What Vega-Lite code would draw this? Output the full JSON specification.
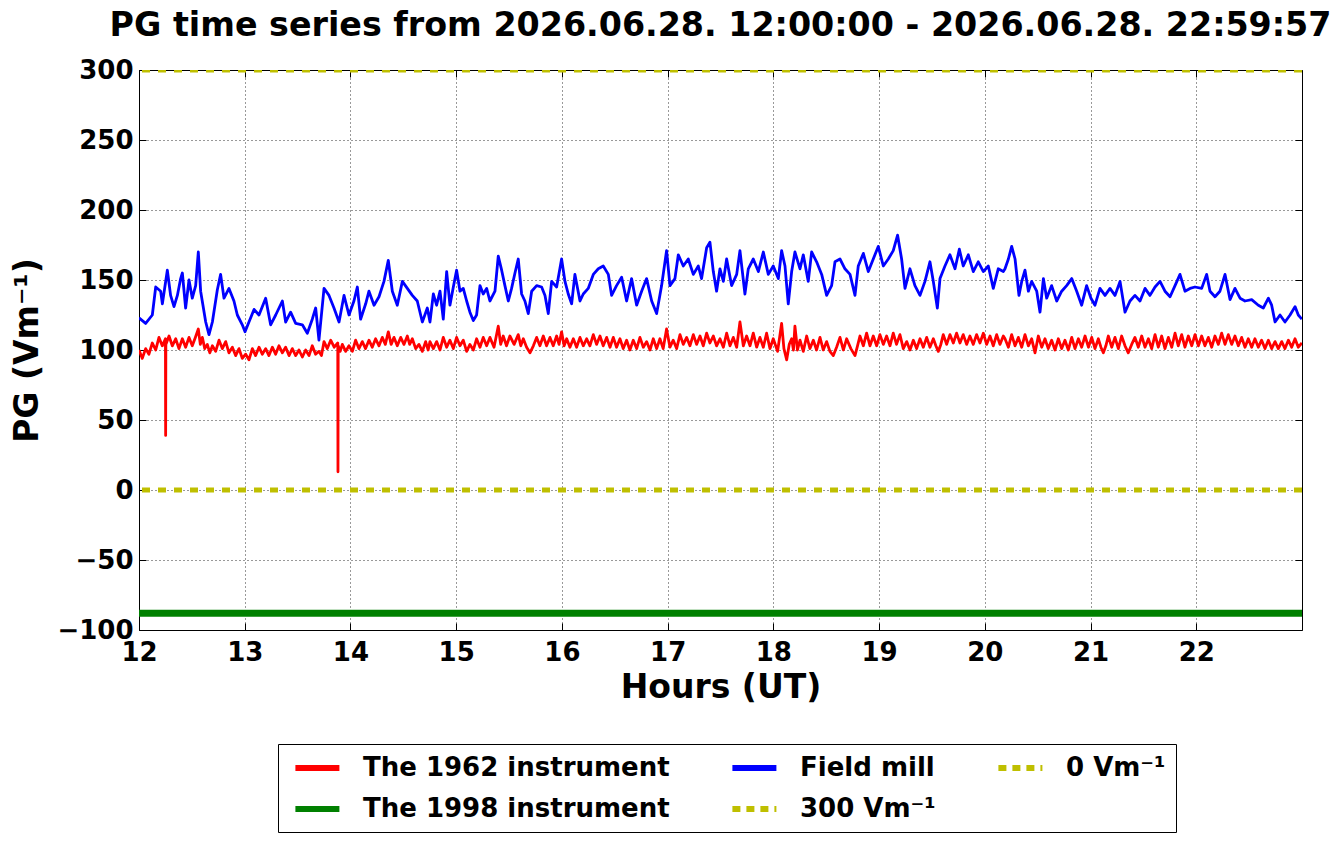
{
  "$schema": "https://vega.github.io/schema/vega-lite/v6.json",
  "width": 1163,
  "height": 560,
  "autosize": {"type": "none"},
  "padding": {"left": 139, "top": 70, "right": 39, "bottom": 214},
  "background": "white",
  "config": {
    "font": "DejaVu Sans",
    "view": {"stroke": "black", "strokeWidth": 1},
    "axis": {
      "labelFont": "DejaVu Sans",
      "labelFontSize": 26,
      "labelFontWeight": "bold",
      "labelColor": "black",
      "titleFont": "DejaVu Sans",
      "titleFontSize": 33,
      "titleFontWeight": "bold",
      "titleColor": "black",
      "domain": false,
      "tickColor": "black",
      "tickSize": -7,
      "tickWidth": 1,
      "gridColor": "black",
      "gridDash": [1, 3],
      "gridOpacity": 0.8,
      "gridWidth": 1,
      "labelFlush": false,
      "labelOverlap": false
    }
  },
  "title": {
    "text": "PG time series from 2026.06.28. 12:00:00 - 2026.06.28. 22:59:57",
    "font": "DejaVu Sans",
    "fontSize": 33.3,
    "fontWeight": "bold",
    "color": "black",
    "anchor": "middle",
    "offset": 14
  },
  "datasets": {
    "red": [
      {"h":12.000,"v":100},{"h":12.031,"v":94},{"h":12.063,"v":101},{"h":12.094,"v":97},{"h":12.126,"v":105},{"h":12.158,"v":100},{"h":12.189,"v":109},{"h":12.220,"v":103},{"h":12.250,"v":108},{"h":12.252,"v":39},{"h":12.254,"v":104},{"h":12.284,"v":110},{"h":12.315,"v":103},{"h":12.347,"v":108},{"h":12.378,"v":101},{"h":12.410,"v":108},{"h":12.441,"v":102},{"h":12.473,"v":109},{"h":12.504,"v":103},{"h":12.533,"v":109},{"h":12.561,"v":115},{"h":12.580,"v":104},{"h":12.599,"v":109},{"h":12.622,"v":101},{"h":12.646,"v":104},{"h":12.670,"v":98},{"h":12.694,"v":103},{"h":12.725,"v":99},{"h":12.757,"v":107},{"h":12.788,"v":101},{"h":12.820,"v":106},{"h":12.851,"v":98},{"h":12.883,"v":102},{"h":12.914,"v":96},{"h":12.946,"v":101},{"h":12.977,"v":94},{"h":13.009,"v":97},{"h":13.040,"v":93},{"h":13.072,"v":101},{"h":13.103,"v":96},{"h":13.135,"v":102},{"h":13.166,"v":97},{"h":13.198,"v":101},{"h":13.229,"v":96},{"h":13.261,"v":102},{"h":13.292,"v":97},{"h":13.324,"v":103},{"h":13.356,"v":98},{"h":13.387,"v":102},{"h":13.419,"v":96},{"h":13.450,"v":101},{"h":13.482,"v":96},{"h":13.513,"v":100},{"h":13.545,"v":95},{"h":13.576,"v":100},{"h":13.608,"v":96},{"h":13.639,"v":103},{"h":13.670,"v":97},{"h":13.702,"v":99},{"h":13.726,"v":96},{"h":13.750,"v":106},{"h":13.781,"v":101},{"h":13.813,"v":107},{"h":13.846,"v":102},{"h":13.880,"v":105},{"h":13.882,"v":13},{"h":13.884,"v":103},{"h":13.903,"v":99},{"h":13.923,"v":104},{"h":13.955,"v":99},{"h":13.986,"v":103},{"h":14.018,"v":99},{"h":14.049,"v":107},{"h":14.080,"v":101},{"h":14.112,"v":106},{"h":14.143,"v":101},{"h":14.175,"v":107},{"h":14.206,"v":102},{"h":14.238,"v":108},{"h":14.270,"v":103},{"h":14.301,"v":109},{"h":14.330,"v":104},{"h":14.358,"v":113},{"h":14.385,"v":104},{"h":14.412,"v":109},{"h":14.443,"v":103},{"h":14.475,"v":109},{"h":14.506,"v":104},{"h":14.538,"v":110},{"h":14.560,"v":104},{"h":14.585,"v":108},{"h":14.617,"v":101},{"h":14.648,"v":104},{"h":14.680,"v":99},{"h":14.711,"v":106},{"h":14.735,"v":100},
      {"h":14.752,"v":106},{"h":14.784,"v":101},{"h":14.815,"v":106},{"h":14.847,"v":100},{"h":14.878,"v":109},{"h":14.910,"v":102},{"h":14.941,"v":107},{"h":14.973,"v":101},{"h":15.004,"v":109},{"h":15.036,"v":103},{"h":15.067,"v":107},{"h":15.099,"v":99},{"h":15.130,"v":104},{"h":15.162,"v":100},{"h":15.193,"v":108},{"h":15.225,"v":102},{"h":15.256,"v":109},{"h":15.288,"v":103},{"h":15.319,"v":109},{"h":15.358,"v":102},{"h":15.398,"v":117},{"h":15.421,"v":104},{"h":15.445,"v":110},{"h":15.476,"v":103},{"h":15.508,"v":110},{"h":15.548,"v":104},{"h":15.587,"v":111},{"h":15.611,"v":103},{"h":15.635,"v":108},{"h":15.666,"v":102},{"h":15.698,"v":98},{"h":15.730,"v":103},{"h":15.761,"v":109},{"h":15.792,"v":103},{"h":15.824,"v":110},{"h":15.855,"v":103},{"h":15.887,"v":109},{"h":15.918,"v":103},{"h":15.950,"v":110},{"h":15.973,"v":104},{"h":15.997,"v":113},{"h":16.021,"v":103},{"h":16.045,"v":108},{"h":16.076,"v":102},{"h":16.108,"v":108},{"h":16.139,"v":102},{"h":16.171,"v":109},{"h":16.202,"v":103},{"h":16.234,"v":108},{"h":16.265,"v":103},{"h":16.297,"v":111},{"h":16.328,"v":104},{"h":16.360,"v":110},{"h":16.391,"v":103},{"h":16.423,"v":109},{"h":16.455,"v":102},{"h":16.486,"v":109},{"h":16.517,"v":102},{"h":16.549,"v":108},{"h":16.580,"v":101},{"h":16.612,"v":107},{"h":16.643,"v":100},{"h":16.675,"v":107},{"h":16.707,"v":101},{"h":16.738,"v":109},{"h":16.770,"v":102},{"h":16.801,"v":106},{"h":16.833,"v":100},{"h":16.864,"v":108},{"h":16.896,"v":101},{"h":16.927,"v":108},{"h":16.958,"v":101},{"h":16.990,"v":115},{"h":17.022,"v":102},{"h":17.053,"v":107},{"h":17.085,"v":101},{"h":17.117,"v":111},{"h":17.148,"v":104},{"h":17.180,"v":109},{"h":17.211,"v":103},{"h":17.243,"v":111},{"h":17.274,"v":104},{"h":17.306,"v":110},{"h":17.337,"v":103},{"h":17.369,"v":112},{"h":17.400,"v":105},{"h":17.432,"v":110},{"h":17.463,"v":103},
      {"h":17.495,"v":108},{"h":17.527,"v":102},{"h":17.558,"v":112},{"h":17.590,"v":103},{"h":17.621,"v":109},{"h":17.653,"v":102},{"h":17.684,"v":120},{"h":17.716,"v":103},{"h":17.747,"v":110},{"h":17.779,"v":103},{"h":17.810,"v":112},{"h":17.842,"v":102},{"h":17.873,"v":109},{"h":17.905,"v":102},{"h":17.936,"v":112},{"h":17.968,"v":101},{"h":17.999,"v":108},{"h":18.040,"v":99},{"h":18.078,"v":119},{"h":18.100,"v":101},{"h":18.126,"v":93},{"h":18.150,"v":104},{"h":18.173,"v":108},{"h":18.190,"v":100},{"h":18.204,"v":117},{"h":18.228,"v":100},{"h":18.252,"v":107},{"h":18.283,"v":99},{"h":18.315,"v":110},{"h":18.346,"v":101},{"h":18.378,"v":107},{"h":18.409,"v":100},{"h":18.441,"v":109},{"h":18.472,"v":100},{"h":18.504,"v":106},{"h":18.535,"v":99},{"h":18.567,"v":96},{"h":18.598,"v":102},{"h":18.630,"v":109},{"h":18.662,"v":100},{"h":18.693,"v":108},{"h":18.733,"v":101},{"h":18.772,"v":96},{"h":18.796,"v":103},{"h":18.819,"v":110},{"h":18.851,"v":103},{"h":18.882,"v":112},{"h":18.914,"v":103},{"h":18.945,"v":110},{"h":18.977,"v":103},{"h":19.008,"v":111},{"h":19.040,"v":104},{"h":19.071,"v":110},{"h":19.103,"v":103},{"h":19.134,"v":112},{"h":19.165,"v":104},{"h":19.197,"v":111},{"h":19.229,"v":101},{"h":19.261,"v":106},{"h":19.292,"v":100},{"h":19.324,"v":107},{"h":19.355,"v":101},{"h":19.387,"v":108},{"h":19.418,"v":102},{"h":19.450,"v":109},{"h":19.481,"v":102},{"h":19.513,"v":108},{"h":19.537,"v":103},{"h":19.560,"v":99},{"h":19.584,"v":104},{"h":19.607,"v":111},{"h":19.639,"v":104},{"h":19.670,"v":111},{"h":19.702,"v":105},{"h":19.733,"v":112},{"h":19.765,"v":105},{"h":19.796,"v":111},{"h":19.828,"v":104},{"h":19.859,"v":110},{"h":19.891,"v":104},{"h":19.922,"v":111},{"h":19.954,"v":105},{"h":19.986,"v":112},{"h":20.017,"v":104},{"h":20.049,"v":110},{"h":20.080,"v":103},{"h":20.112,"v":111},{"h":20.143,"v":104},{"h":20.175,"v":110},
      {"h":20.191,"v":108},{"h":20.223,"v":102},{"h":20.254,"v":111},{"h":20.286,"v":103},{"h":20.317,"v":109},{"h":20.349,"v":102},{"h":20.380,"v":111},{"h":20.412,"v":103},{"h":20.443,"v":108},{"h":20.475,"v":98},{"h":20.506,"v":110},{"h":20.538,"v":102},{"h":20.569,"v":108},{"h":20.600,"v":101},{"h":20.632,"v":107},{"h":20.664,"v":100},{"h":20.695,"v":108},{"h":20.727,"v":101},{"h":20.758,"v":107},{"h":20.790,"v":100},{"h":20.822,"v":109},{"h":20.853,"v":101},{"h":20.885,"v":108},{"h":20.916,"v":102},{"h":20.948,"v":110},{"h":20.980,"v":102},{"h":21.011,"v":109},{"h":21.042,"v":101},{"h":21.074,"v":108},{"h":21.098,"v":102},{"h":21.121,"v":98},{"h":21.145,"v":103},{"h":21.168,"v":110},{"h":21.200,"v":102},{"h":21.231,"v":109},{"h":21.263,"v":101},{"h":21.294,"v":110},{"h":21.326,"v":103},{"h":21.357,"v":98},{"h":21.389,"v":104},{"h":21.420,"v":109},{"h":21.452,"v":102},{"h":21.484,"v":110},{"h":21.515,"v":102},{"h":21.547,"v":108},{"h":21.578,"v":101},{"h":21.610,"v":111},{"h":21.641,"v":102},{"h":21.673,"v":110},{"h":21.704,"v":101},{"h":21.736,"v":109},{"h":21.768,"v":102},{"h":21.799,"v":112},{"h":21.830,"v":103},{"h":21.862,"v":111},{"h":21.893,"v":102},{"h":21.925,"v":110},{"h":21.957,"v":103},{"h":21.988,"v":111},{"h":22.020,"v":103},{"h":22.051,"v":110},{"h":22.082,"v":103},{"h":22.114,"v":109},{"h":22.146,"v":102},{"h":22.177,"v":110},{"h":22.209,"v":104},{"h":22.240,"v":112},{"h":22.272,"v":104},{"h":22.303,"v":111},{"h":22.335,"v":104},{"h":22.366,"v":110},{"h":22.398,"v":103},{"h":22.429,"v":109},{"h":22.461,"v":102},{"h":22.492,"v":108},{"h":22.524,"v":102},{"h":22.555,"v":108},{"h":22.587,"v":102},{"h":22.618,"v":107},{"h":22.650,"v":101},{"h":22.682,"v":107},{"h":22.713,"v":101},{"h":22.745,"v":106},{"h":22.776,"v":101},{"h":22.808,"v":106},{"h":22.839,"v":101},{"h":22.871,"v":107},{"h":22.902,"v":102},{"h":22.934,"v":108},{"h":22.965,"v":102},{"h":22.999,"v":105}
    ],
    "blue": [
      {"h":12.000,"v":123},{"h":12.063,"v":119},{"h":12.126,"v":125},{"h":12.158,"v":145},{"h":12.205,"v":142},{"h":12.221,"v":133},{"h":12.268,"v":157},{"h":12.299,"v":139},{"h":12.331,"v":131},{"h":12.363,"v":139},{"h":12.394,"v":151},{"h":12.410,"v":155},{"h":12.441,"v":130},{"h":12.473,"v":150},{"h":12.504,"v":137},{"h":12.536,"v":146},{"h":12.561,"v":170},{"h":12.583,"v":142},{"h":12.631,"v":120},{"h":12.662,"v":111},{"h":12.694,"v":120},{"h":12.741,"v":143},{"h":12.772,"v":154},{"h":12.804,"v":137},{"h":12.851,"v":144},{"h":12.898,"v":135},{"h":12.930,"v":125},{"h":12.977,"v":118},{"h":13.003,"v":113},{"h":13.040,"v":120},{"h":13.088,"v":129},{"h":13.135,"v":125},{"h":13.198,"v":137},{"h":13.245,"v":118},{"h":13.293,"v":125},{"h":13.356,"v":135},{"h":13.387,"v":120},{"h":13.434,"v":127},{"h":13.482,"v":119},{"h":13.545,"v":118},{"h":13.592,"v":112},{"h":13.639,"v":122},{"h":13.671,"v":130},{"h":13.702,"v":107},{"h":13.750,"v":144},{"h":13.797,"v":139},{"h":13.844,"v":130},{"h":13.892,"v":120},{"h":13.939,"v":139},{"h":13.986,"v":125},{"h":14.033,"v":135},{"h":14.065,"v":145},{"h":14.096,"v":122},{"h":14.144,"v":133},{"h":14.175,"v":142},{"h":14.223,"v":132},{"h":14.270,"v":138},{"h":14.317,"v":149},{"h":14.358,"v":164},{"h":14.396,"v":142},{"h":14.443,"v":132},{"h":14.491,"v":149},{"h":14.538,"v":144},{"h":14.585,"v":139},{"h":14.632,"v":135},{"h":14.680,"v":120},{"h":14.727,"v":130},
      {"h":14.752,"v":120},{"h":14.784,"v":140},{"h":14.815,"v":132},{"h":14.847,"v":142},{"h":14.878,"v":122},{"h":14.910,"v":156},{"h":14.941,"v":132},{"h":14.973,"v":145},{"h":15.004,"v":157},{"h":15.036,"v":142},{"h":15.067,"v":144},{"h":15.099,"v":135},{"h":15.130,"v":127},{"h":15.162,"v":121},{"h":15.193,"v":125},{"h":15.225,"v":146},{"h":15.256,"v":140},{"h":15.288,"v":144},{"h":15.319,"v":135},{"h":15.367,"v":142},{"h":15.398,"v":167},{"h":15.430,"v":157},{"h":15.461,"v":146},{"h":15.493,"v":135},{"h":15.524,"v":144},{"h":15.556,"v":155},{"h":15.587,"v":165},{"h":15.619,"v":140},{"h":15.650,"v":135},{"h":15.682,"v":126},{"h":15.714,"v":142},{"h":15.761,"v":146},{"h":15.808,"v":145},{"h":15.840,"v":139},{"h":15.871,"v":126},{"h":15.903,"v":149},{"h":15.950,"v":145},{"h":15.997,"v":165},{"h":16.029,"v":149},{"h":16.060,"v":140},{"h":16.092,"v":133},{"h":16.123,"v":154},{"h":16.171,"v":135},{"h":16.202,"v":140},{"h":16.249,"v":144},{"h":16.297,"v":154},{"h":16.344,"v":158},{"h":16.391,"v":160},{"h":16.439,"v":154},{"h":16.470,"v":139},{"h":16.517,"v":146},{"h":16.565,"v":152},{"h":16.612,"v":135},{"h":16.659,"v":151},{"h":16.707,"v":132},{"h":16.754,"v":142},{"h":16.801,"v":151},{"h":16.849,"v":135},{"h":16.896,"v":126},{"h":16.943,"v":146},{"h":16.990,"v":171},{"h":17.022,"v":146},{"h":17.069,"v":151},{"h":17.101,"v":168},{"h":17.148,"v":160},{"h":17.195,"v":165},{"h":17.243,"v":154},{"h":17.290,"v":160},{"h":17.321,"v":151},{"h":17.369,"v":173},{"h":17.400,"v":177},{"h":17.432,"v":156},{"h":17.463,"v":142},
      {"h":17.495,"v":158},{"h":17.527,"v":149},{"h":17.558,"v":165},{"h":17.605,"v":146},{"h":17.653,"v":154},{"h":17.684,"v":171},{"h":17.731,"v":140},{"h":17.763,"v":158},{"h":17.810,"v":165},{"h":17.858,"v":156},{"h":17.905,"v":170},{"h":17.952,"v":154},{"h":17.999,"v":160},{"h":18.047,"v":151},{"h":18.078,"v":171},{"h":18.110,"v":160},{"h":18.141,"v":133},{"h":18.173,"v":156},{"h":18.204,"v":170},{"h":18.252,"v":158},{"h":18.283,"v":168},{"h":18.330,"v":149},{"h":18.362,"v":170},{"h":18.409,"v":163},{"h":18.457,"v":154},{"h":18.504,"v":139},{"h":18.551,"v":146},{"h":18.583,"v":163},{"h":18.630,"v":165},{"h":18.677,"v":158},{"h":18.725,"v":154},{"h":18.772,"v":139},{"h":18.803,"v":160},{"h":18.851,"v":169},{"h":18.898,"v":156},{"h":18.945,"v":165},{"h":18.992,"v":174},{"h":19.040,"v":160},{"h":19.087,"v":165},{"h":19.134,"v":171},{"h":19.175,"v":182},{"h":19.213,"v":165},{"h":19.245,"v":144},{"h":19.292,"v":158},{"h":19.339,"v":146},{"h":19.387,"v":139},{"h":19.434,"v":149},{"h":19.481,"v":163},{"h":19.513,"v":149},{"h":19.551,"v":130},{"h":19.576,"v":151},{"h":19.623,"v":160},{"h":19.670,"v":168},{"h":19.718,"v":158},{"h":19.759,"v":172},{"h":19.796,"v":160},{"h":19.844,"v":168},{"h":19.891,"v":156},{"h":19.938,"v":163},{"h":19.986,"v":156},{"h":20.033,"v":160},{"h":20.080,"v":144},{"h":20.127,"v":158},{"h":20.175,"v":156},
      {"h":20.191,"v":158},{"h":20.223,"v":165},{"h":20.254,"v":174},{"h":20.286,"v":165},{"h":20.323,"v":139},{"h":20.349,"v":149},{"h":20.380,"v":157},{"h":20.412,"v":142},{"h":20.443,"v":149},{"h":20.491,"v":142},{"h":20.522,"v":127},{"h":20.554,"v":151},{"h":20.585,"v":137},{"h":20.632,"v":146},{"h":20.680,"v":135},{"h":20.727,"v":142},{"h":20.774,"v":146},{"h":20.822,"v":151},{"h":20.869,"v":142},{"h":20.916,"v":132},{"h":20.963,"v":146},{"h":21.004,"v":137},{"h":21.042,"v":132},{"h":21.089,"v":144},{"h":21.137,"v":139},{"h":21.184,"v":144},{"h":21.231,"v":139},{"h":21.279,"v":149},{"h":21.326,"v":127},{"h":21.373,"v":135},{"h":21.420,"v":139},{"h":21.468,"v":135},{"h":21.515,"v":144},{"h":21.562,"v":139},{"h":21.610,"v":145},{"h":21.657,"v":149},{"h":21.704,"v":142},{"h":21.752,"v":138},{"h":21.799,"v":146},{"h":21.846,"v":154},{"h":21.893,"v":142},{"h":21.941,"v":144},{"h":21.988,"v":145},{"h":22.051,"v":144},{"h":22.098,"v":154},{"h":22.130,"v":142},{"h":22.177,"v":138},{"h":22.224,"v":142},{"h":22.272,"v":154},{"h":22.319,"v":136},{"h":22.366,"v":144},{"h":22.414,"v":137},{"h":22.461,"v":135},{"h":22.524,"v":136},{"h":22.587,"v":132},{"h":22.634,"v":130},{"h":22.682,"v":137},{"h":22.713,"v":132},{"h":22.745,"v":120},{"h":22.792,"v":125},{"h":22.839,"v":120},{"h":22.887,"v":125},{"h":22.934,"v":131},{"h":22.965,"v":125},{"h":22.999,"v":122}
    ],
    "green": [{"v": -88}],
    "ref300": [{"v": 300}],
    "ref0": [{"v": 0}]
  },
  "layer": [
    {
      "data": {"name": "green"},
      "mark": {"type": "rule", "strokeWidth": 7},
      "encoding": {
        "y": {"field": "v", "type": "quantitative", "axis": null},
        "color": {"datum": "The 1998 instrument"}
      }
    },
    {
      "data": {"name": "red"},
      "mark": {"type": "line", "strokeWidth": 2.8, "strokeJoin": "round", "clip": true},
      "encoding": {
        "x": {
          "field": "h", "type": "quantitative",
          "scale": {"domain": [12, 23], "nice": false, "zero": false},
          "axis": {
            "orient": "bottom", "title": "Hours (UT)",
            "values": [12, 13, 14, 15, 16, 17, 18, 19, 20, 21, 22],
            "grid": true, "labelPadding": 16, "titlePadding": 6
          }
        },
        "y": {
          "field": "v", "type": "quantitative",
          "scale": {"domain": [-100, 300], "nice": false, "zero": false},
          "axis": {
            "orient": "left", "title": "PG (Vm⁻¹)",
            "values": [-100, -50, 0, 50, 100, 150, 200, 250, 300],
            "grid": true, "labelPadding": 13, "titlePadding": 12
          }
        },
        "color": {
          "datum": "The 1962 instrument",
          "scale": {
            "domain": ["The 1962 instrument", "The 1998 instrument", "Field mill", "300 Vm⁻¹", "0 Vm⁻¹"],
            "range": ["#ff0000", "#008000", "#0000ff", "#bfbf00", "#bfbf00"]
          },
          "legend": {
            "title": null,
            "orient": "none",
            "legendX": 139,
            "legendY": 674,
            "columns": 3,
            "gridAlign": "each",
            "symbolType": "M-0.6,0H3.4",
            "symbolSize": 484,
            "symbolStrokeWidth": 6,
            "labelFont": "DejaVu Sans",
            "labelFontSize": 26,
            "labelFontWeight": "bold",
            "labelColor": "black",
            "labelLimit": 0,
            "labelOffset": 47,
            "columnPadding": 50,
            "rowPadding": 14,
            "padding": 10,
            "strokeColor": "black",
            "fillColor": "white",
            "cornerRadius": 0,
            "encode": {
              "symbols": {
                "update": {
                  "strokeDash": {"signal": "datum.value == '300 Vm⁻¹' || datum.value == '0 Vm⁻¹' ? [8, 6] : []"}
                }
              }
            }
          }
        }
      }
    },
    {
      "data": {"name": "blue"},
      "mark": {"type": "line", "strokeWidth": 2.8, "strokeJoin": "round", "clip": true},
      "encoding": {
        "x": {
          "field": "h", "type": "quantitative",
          "axis": {"orient": "top", "title": null, "labels": false, "grid": false, "values": [12, 13, 14, 15, 16, 17, 18, 19, 20, 21, 22]}
        },
        "y": {
          "field": "v", "type": "quantitative",
          "axis": {"orient": "right", "title": null, "labels": false, "grid": false, "values": [-100, -50, 0, 50, 100, 150, 200, 250, 300]}
        },
        "color": {"datum": "Field mill"}
      }
    },
    {
      "data": {"name": "ref300"},
      "mark": {"type": "rule", "strokeWidth": 5, "strokeDash": [8, 8], "clip": true},
      "encoding": {
        "y": {"field": "v", "type": "quantitative", "axis": null},
        "color": {"datum": "300 Vm⁻¹"}
      }
    },
    {
      "data": {"name": "ref0"},
      "mark": {"type": "rule", "strokeWidth": 5, "strokeDash": [8, 8], "clip": true},
      "encoding": {
        "y": {"field": "v", "type": "quantitative", "axis": null},
        "color": {"datum": "0 Vm⁻¹"}
      }
    }
  ],
  "resolve": {"axis": {"x": "independent", "y": "independent"}}
}
